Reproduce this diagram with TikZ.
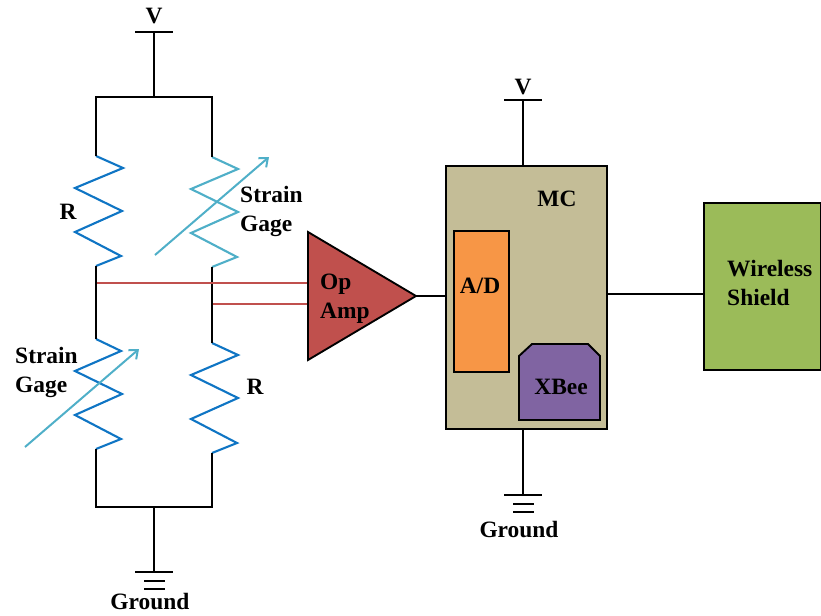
\documentclass[tikz,border=0pt]{standalone}
\usepackage{fontspec}
\setmainfont{Liberation Serif}
\usetikzlibrary{positioning,arrows.meta}
\definecolor{mcred}{HTML}{C0504D}
\definecolor{mctan}{HTML}{C4BD97}
\definecolor{mcorange}{HTML}{F79646}
\definecolor{mcpurple}{HTML}{8064A2}
\definecolor{mcgreen}{HTML}{9BBB59}
\definecolor{resblue}{HTML}{0F75C4}
\definecolor{gagecyan}{HTML}{4FAFC8}
\tikzset{
  wire/.style   ={black, line width=1.7pt},
  tap/.style    ={mcred, line width=1.5pt},
  zig/.style    ={line width=1.8pt, line join=miter},
  gagearrow/.style={gagecyan, line width=1.7pt, -{Straight Barb[length=2.2mm,width=3.6mm]}},
  lbl/.style    ={font=\fontsize{20}{24.7}\selectfont\bfseries, inner sep=0pt, align=left},
  blockbox/.style={draw=black, line width=1.6pt, inner sep=0pt},
  mcbox/.style  ={blockbox, fill=mctan, minimum width=137pt, minimum height=224pt},
  adbox/.style  ={blockbox, fill=mcorange, minimum width=47pt, minimum height=120pt},
  shieldbox/.style={blockbox, fill=mcgreen, minimum width=100pt, minimum height=142pt},
}
\newcommand{\zzres}[4]{%
  \begin{scope}[shift={(#2)}]
    \coordinate (#1-in) at (0,0);
    \coordinate (#1-out) at (0,110);
    \draw[zig,#3] (#1-in) -- (#4,12) -- (-21,32) -- (26,55) -- (-21,76) -- (25,100) -- (#1-out);
  \end{scope}}
\newcommand{\gndbars}[1]{%
  \begin{scope}[shift={(#1)}]
    \draw[wire] (-19,0) -- (19,0);
    \draw[wire] (-10,9) -- (11,9);
    \draw[wire] (-10,17) -- (11,17);
  \end{scope}}

\begin{document}
\begin{tikzpicture}[x=0.03cm,y=-0.03cm]
  \useasboundingbox (0,0) rectangle (821,615);
  % bridge
  \zzres{rone}{96,156}{resblue}{27}
  \zzres{gone}{212,157}{gagecyan}{26}
  \zzres{gtwo}{96,339}{resblue}{25}
  \zzres{rtwo}{212,343}{resblue}{26}
  \coordinate (vtop) at (154,32);
  \coordinate (vnode) at (154,97);
  \coordinate (gnode) at (154,507);
  \coordinate (gtop) at (154,572);
  \draw[wire] (vtop) -- (vnode);
  \draw[wire] (135,32) -- (173,32);
  \draw[wire] (rone-in) |- (vnode) -| (gone-in);
  \draw[wire] (rone-out) -- (gtwo-in);
  \draw[wire] (gone-out) -- (rtwo-in);
  \draw[wire] (gtwo-out) |- (gnode) -| (rtwo-out);
  \draw[wire] (gnode) -- (gtop);
  \gndbars{154,572}
  % gage arrows
  \coordinate (aone) at (155,255);
  \coordinate (bone) at (269,157);
  \coordinate (atwo) at (25,447);
  \coordinate (btwo) at (139,349);
  \draw[gagearrow] (aone) -- (bone);
  \draw[gagearrow] (atwo) -- (btwo);
  % op amp
  \coordinate (ampa) at (308,232);
  \coordinate (ampb) at (308,360);
  \coordinate (ampout) at (416,296);
  \coordinate (tapa) at (308,283);
  \coordinate (tapb) at (308,304);
  \draw[tap] (97,283) -- (tapa);
  \draw[tap] (213,304) -- (tapb);
  \draw[blockbox,fill=mcred] (ampa) -- (ampout) -- (ampb) -- cycle;
  \node[lbl,anchor=west] (amplabel) at (320,298.5) {Op\\Amp};
  % controller
  \node[mcbox] (mc) at (526.5,297.5) {};
  \node[adbox] (ad) at (481.5,301.5) {};
  \draw[blockbox,fill=mcpurple] (519,420) -- (519,356) -- (532,344) -- (588,344) -- (600,356) -- (600,420) -- cycle;
  \node[shieldbox] (shield) at (762.5,286.5) {};
  \draw[wire] (ampout) -- (ampout-|mc.west);
  \draw[wire] (mc.east|-607,294) -- (shield.west|-607,294);
  \coordinate (vmc) at (523,100);
  \coordinate (gmc) at (523,495);
  \draw[wire] (vmc) -- (vmc|-mc.north);
  \draw[wire] (504,100) -- (542,100);
  \draw[wire] (gmc|-mc.south) -- (gmc);
  \gndbars{523,495}
  % labels
  \node[lbl] (vone) at (154,16) {V};
  \node[lbl] (vtwo) at (523,87) {V};
  \node[lbl] (gndone) at (150,602) {Ground};
  \node[lbl] (gndtwo) at (519,530) {Ground};
  \node[lbl] (rlabel) at (68,212) {R};
  \node[lbl] (rlabeltwo) at (255,387) {R};
  \node[lbl,anchor=west] (gageone) at (240,211.5) {Strain\\Gage};
  \node[lbl,anchor=west] (gagetwo) at (15,372) {Strain\\Gage};
  \node[lbl] (mclabel) at (557,199) {MC};
  \node[lbl] (adlabel) at (480,286) {A/D};
  \node[lbl] (xbeelabel) at (561,387) {XBee};
  \node[lbl,anchor=west] (shieldlabel) at (727,283) {Wireless\\Shield};
\end{tikzpicture}
\end{document}
